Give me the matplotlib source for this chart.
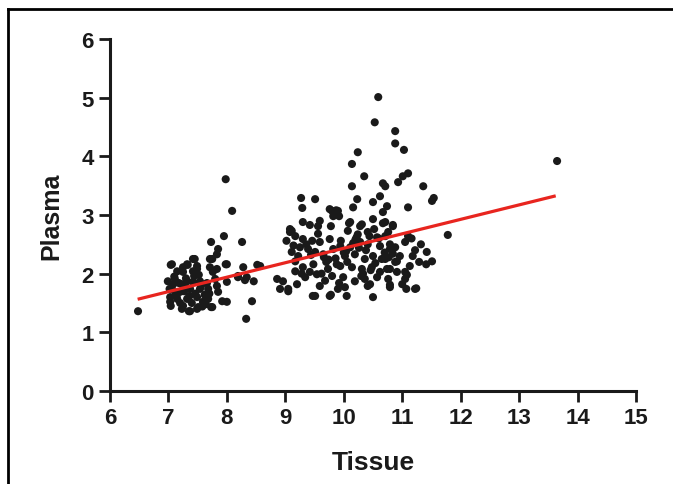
import matplotlib
matplotlib.use("Agg")
from matplotlib import pyplot as plt
from matplotlib.lines import Line2D
import numpy as np

# ---- data ----
# group around tissue 7-8.5
x_lo = [7.98, 8.09, 7.95, 7.73, 8.26, 7.85, 7.83, 7.71, 7.45, 8.00, 8.28, 8.52,
        7.04, 7.25, 7.33, 7.49, 7.71, 7.83, 8.19, 8.31, 8.46, 8.00, 7.83, 8.43,
        8.33, 6.48, 8.00, 7.85, 7.73, 7.49, 7.35, 7.04, 7.75, 7.42, 7.32, 7.06,
        7.49, 7.98, 7.15, 7.25, 7.42, 7.76, 6.99, 7.11, 7.32, 7.54, 7.80, 8.19,
        8.34, 7.06, 7.20, 7.37, 7.54, 7.68, 7.15, 7.32, 7.49, 7.68, 7.92, 7.23,
        7.37, 7.51, 7.75, 7.03, 7.03, 7.25, 7.59, 7.42, 7.23, 7.10, 7.28, 7.46,
        7.62, 7.18, 7.56, 7.40, 7.12, 7.30, 7.64, 7.08, 7.52, 7.36, 7.70, 7.20,
        7.44, 7.58, 7.14, 7.66, 7.27, 7.02]
y_lo = [3.61, 3.07, 2.64, 2.54, 2.54, 2.42, 2.33, 2.25, 2.25, 2.16, 2.11, 2.15,
        2.15, 2.11, 2.15, 2.08, 2.11, 2.08, 1.94, 1.89, 1.87, 1.86, 1.79, 1.53,
        1.23, 1.36, 1.52, 1.69, 1.43, 1.40, 1.36, 1.45, 2.25, 2.25, 2.16, 2.16,
        2.13, 2.16, 2.04, 2.03, 2.04, 2.03, 1.87, 1.91, 1.87, 1.87, 1.91, 1.96,
        1.94, 1.74, 1.69, 1.74, 1.74, 1.74, 1.57, 1.57, 1.60, 1.57, 1.53, 1.40,
        1.36, 1.43, 1.43, 1.60, 1.52, 1.45, 1.52, 1.86, 1.82, 1.95, 1.78, 1.66,
        1.64, 1.84, 1.80, 1.50, 1.68, 1.92, 1.48, 1.82, 1.98, 1.62, 1.66, 1.50,
        1.96, 1.44, 1.62, 1.84, 1.70, 1.74]

# group around tissue 9-11.5
x_hi = [10.59, 10.53, 10.88, 10.88, 11.03, 10.24, 10.14, 10.35, 11.01, 11.10,
        10.14, 10.67, 10.71, 10.93, 11.36, 11.51, 11.54, 9.27, 9.51, 9.29,
        10.23, 10.62, 10.50, 10.16, 10.74, 10.67, 11.10, 9.76, 9.87, 9.82,
        9.92, 9.30, 9.42, 9.59, 9.56, 9.78, 10.09, 10.28, 10.50, 10.67,
        10.84, 9.08, 13.65, 11.78, 11.32, 11.42, 11.51, 11.41, 11.29, 11.18,
        11.24, 11.07, 10.79, 11.00, 11.05, 11.13, 10.96, 10.88, 10.77, 11.05,
        11.10, 10.84, 10.71, 10.71, 10.79, 10.88, 10.65, 10.74, 10.91, 11.05,
        11.22, 9.80, 9.11, 9.17, 9.30, 9.46, 9.59, 9.76, 9.25, 9.39,
        9.51, 9.65, 9.82, 9.11, 9.17, 9.30, 9.17, 9.42, 9.54, 9.73,
        9.80, 8.86, 8.96, 8.91, 9.05, 9.20, 9.34, 9.47, 9.76, 9.59,
        9.90, 9.88, 9.90, 10.11, 10.31, 10.07, 10.24, 10.41, 10.57, 10.76,
        9.94, 10.11, 10.28, 10.41, 10.62, 10.79, 10.02, 10.19, 10.36, 10.50,
        10.71, 10.91, 9.94, 10.14, 10.31, 10.48, 10.62, 10.79, 9.99, 10.19,
        10.36, 10.57, 10.76, 10.02, 10.41, 10.79, 10.05, 10.50, 9.51, 9.78,
        9.05, 10.45, 9.08, 8.57, 11.22, 11.16, 11.08, 10.20, 10.44, 9.66,
        9.36, 9.70, 10.00, 10.26, 10.54, 9.22, 9.48, 9.95, 10.33, 10.60,
        9.62, 10.06, 10.38, 9.44, 9.86, 10.16, 10.70, 9.14, 9.68, 10.46,
        9.02, 9.92, 10.22, 10.84, 9.56, 9.28, 10.04, 10.52, 10.30, 9.74]
y_hi = [5.01, 4.58, 4.43, 4.22, 4.11, 4.07, 3.87, 3.66, 3.66, 3.71,
        3.49, 3.54, 3.49, 3.56, 3.49, 3.24, 3.29, 3.29, 3.27, 3.12,
        3.27, 3.32, 3.22, 3.13, 3.15, 3.05, 3.13, 3.10, 3.08, 2.98,
        2.98, 2.88, 2.83, 2.90, 2.81, 2.81, 2.86, 2.81, 2.93, 2.86,
        2.83, 2.76, 3.92, 2.66, 2.50, 2.37, 2.21, 2.16, 2.20, 2.30,
        1.75, 1.74, 1.81, 1.82, 2.03, 2.13, 2.30, 2.20, 2.28, 2.54,
        2.64, 2.81, 2.88, 2.64, 2.50, 2.45, 2.25, 2.08, 2.03, 1.91,
        1.74, 3.07, 2.73, 2.64, 2.59, 2.56, 2.54, 2.59, 2.45, 2.42,
        2.37, 2.33, 2.42, 2.37, 2.21, 2.11, 2.04, 2.03, 1.99, 2.08,
        1.96, 1.91, 1.87, 1.74, 1.74, 1.82, 1.94, 1.62, 1.62, 1.79,
        1.74, 2.16, 3.07, 2.88, 2.84, 2.73, 2.67, 2.71, 2.62, 2.71,
        2.47, 2.45, 2.54, 2.50, 2.47, 2.42, 2.30, 2.33, 2.25, 2.30,
        2.25, 2.21, 2.13, 2.11, 2.08, 2.11, 2.03, 2.08, 1.94, 1.87,
        1.91, 1.94, 1.91, 1.77, 1.79, 1.77, 1.62, 1.60, 1.62, 1.64,
        1.70, 1.82, 2.71, 2.13, 2.40, 2.60, 1.98, 2.58, 2.64, 2.28,
        2.50, 2.20, 2.36, 2.44, 2.18, 2.30, 2.16, 2.56, 2.00, 2.60,
        2.00, 2.20, 2.40, 2.32, 2.26, 2.52, 2.36, 2.48, 1.88, 2.06,
        2.56, 1.84, 2.62, 2.34, 2.68, 2.00, 2.38, 2.76, 1.96, 2.24]

tissue = np.array(x_lo + x_hi)
plasma = np.array(y_lo + y_hi)

# regression line end points
fit_x = [6.5, 13.6]
fit_y = [1.57, 3.32]

plt.rcParams['font.family'] = ['Liberation Sans', 'DejaVu Sans']
plt.rcParams['font.weight'] = 'bold'

fig = plt.figure(figsize=(6.73, 4.85), dpi=100)
ax = fig.add_axes([0.1634, 0.1918, 0.7816, 0.7257])

ax.scatter(tissue, plasma, s=34, c='#1a1a1a', edgecolors='none', zorder=2)
ax.plot(fit_x, fit_y, c='#e8251f', lw=2.3, zorder=3)

ax.set_xlim(6, 15)
ax.set_ylim(0, 6)
ax.set_xticks(range(6, 16))
ax.set_yticks(range(0, 7))

for s in ['top', 'right']:
    ax.spines[s].set_visible(False)
for s in ['left', 'bottom']:
    ax.spines[s].set_linewidth(2.2)
    ax.spines[s].set_color('#1a1a1a')
ax.tick_params(direction='out', length=8, width=2, colors='#1a1a1a',
               labelsize=16, pad=3.5)
for lab in ax.get_xticklabels() + ax.get_yticklabels():
    lab.set_fontweight('bold')

ax.set_xlabel('Tissue', fontsize=19, fontweight='bold', labelpad=16, color='#1a1a1a')
ax.set_ylabel('Plasma', fontsize=18, fontweight='bold', labelpad=13, color='#1a1a1a')

# outer frame (top and left only)
fig.add_artist(Line2D([0.012, 1.0], [0.979, 0.979], transform=fig.transFigure,
                      c='black', lw=2))
fig.add_artist(Line2D([0.012, 0.012], [0.0, 0.979], transform=fig.transFigure,
                      c='black', lw=2))

fig.savefig('out.png', dpi=100)
